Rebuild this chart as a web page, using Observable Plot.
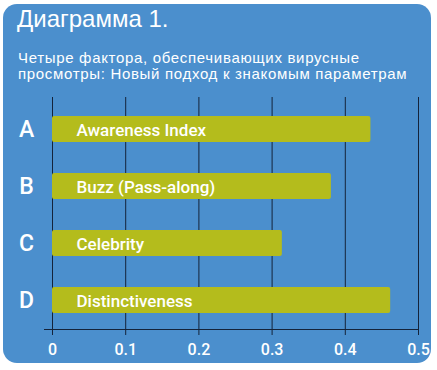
<!DOCTYPE html>
<html><head><meta charset="utf-8">
<script src="https://cdn.jsdelivr.net/npm/d3@7"></script>
<script src="https://cdn.jsdelivr.net/npm/@observablehq/plot@0.6"></script>
<style>
body{margin:0;background:#fff;width:437px;height:370px;position:relative;overflow:hidden;}
#panel{position:absolute;left:3px;top:4px;width:428px;height:359px;border-radius:14px;background:#4b8fcd;}
#title{position:absolute;left:17px;top:7px;font:24px/24px "Liberation Sans",Arial,sans-serif;color:#fff;white-space:nowrap;}
#sub{position:absolute;left:18px;top:50px;font:15px/16px "Liberation Sans",Arial,sans-serif;letter-spacing:0.68px;color:#fff;white-space:nowrap;}
#chart{position:absolute;left:0;top:90px;}
</style></head>
<body>
<div id="panel"></div>
<div id="title">Диаграмма 1.</div>
<div id="sub">Четыре фактора, обеспечивающих вирусные<br>просмотры: Новый подход к знакомым параметрам</div>
<div id="chart"></div>
<script>
const letters = ["A", "B", "C", "D"];
const factors = ["Awareness Index", "Buzz (Pass-along)", "Celebrity", "Distinctiveness"];
const values = [0.435, 0.381, 0.314, 0.462];
const ticks = [0, 0.1, 0.2, 0.3, 0.4, 0.5];

const data = letters.map((l, i) => ({letter: l, factor: factors[i], value: values[i]}));
const font = 'Roboto,"DejaVu Sans Condensed",sans-serif';

const chart = Plot.plot({
  width: 437,
  height: 275,
  marginLeft: 52,
  marginRight: 19,
  marginTop: 10,
  marginBottom: 36,
  style: {background: "transparent", color: "#fff", fontFamily: font, overflow: "visible"},
  x: {domain: [0, 0.5], ticks: ticks},
  y: {domain: letters, paddingInner: 0.548, paddingOuter: 0.264},
  marks: [
    Plot.gridX(ticks, {stroke: "#14233a", strokeOpacity: 1, strokeWidth: 1, insetTop: -3, insetBottom: -6}),
    Plot.frame({anchor: "bottom", stroke: "#14233a", strokeWidth: 1, insetLeft: -8}),
    Plot.barX(data, {x: "value", y: "letter", fill: "#b4bc1c", rx: 2}),
    Plot.text(data, {x: 0, y: "letter", text: "factor", textAnchor: "start", dx: 24, dy: 1, fill: "#fff", fontSize: 17, fontWeight: 500}),
    Plot.text(data, {y: "letter", text: "letter", frameAnchor: "left", dx: -26, textAnchor: "middle", fill: "#fff", fontSize: 23, fontWeight: 500}),
    Plot.axisX(ticks, {tickSize: 0, tickPadding: 14, fontSize: 16, fontWeight: 500, fill: "#fff", label: null, tickFormat: d => String(d)}),
    Plot.axisY({ticks: [], label: null})
  ]
});
document.getElementById("chart").appendChild(chart);
</script>
</body></html>
